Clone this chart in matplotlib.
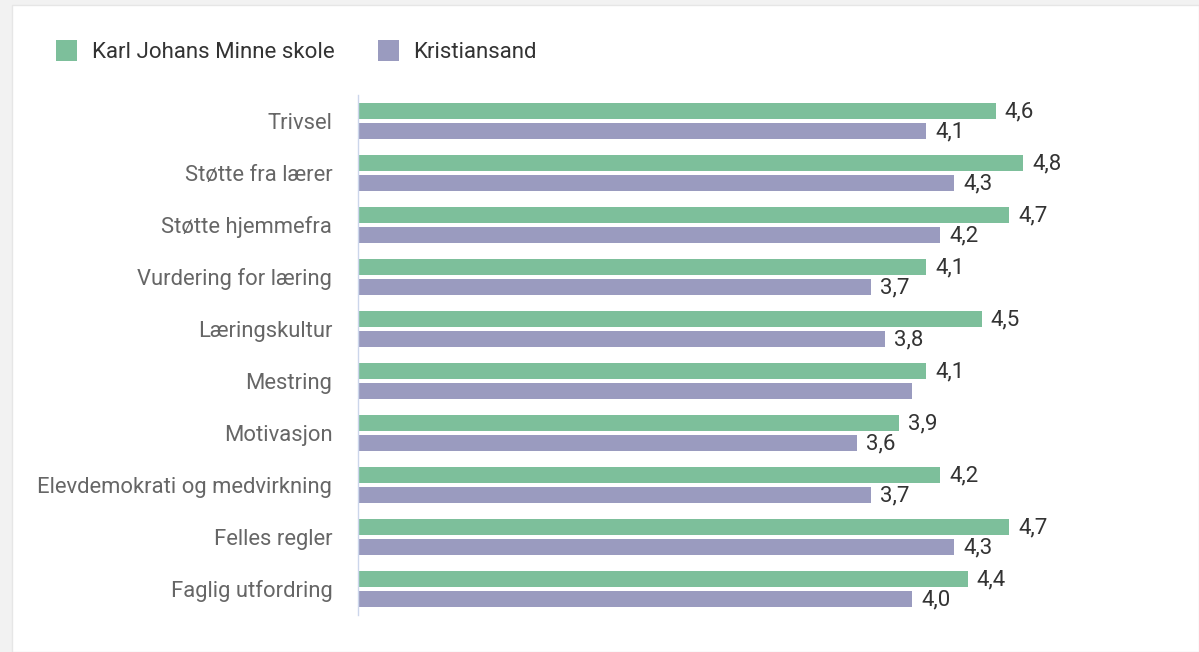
import matplotlib.pyplot as plt
from matplotlib.patches import Rectangle
import numpy as np

plt.rcParams['font.family'] = ['Roboto', 'DejaVu Sans']

categories = ["Trivsel", "Støtte fra lærer", "Støtte hjemmefra", "Vurdering for læring",
              "Læringskultur", "Mestring", "Motivasjon", "Elevdemokrati og medvirkning",
              "Felles regler", "Faglig utfordring"]
school = [4.6, 4.8, 4.7, 4.1, 4.5, 4.1, 3.9, 4.2, 4.7, 4.4]
kommune = [4.1, 4.3, 4.2, 3.7, 3.8, 4.0, 3.6, 3.7, 4.3, 4.0]
# labels shown in the original (Mestring/Kristiansand label is hidden there)
show_kommune_label = [True, True, True, True, True, False, True, True, True, True]
series_names = ["Karl Johans Minne skole", "Kristiansand"]

green = "#7dbf9b"
purple = "#9a9bbf"
fs = 16

W, H = 1199, 652
fig = plt.figure(figsize=(W / 100, H / 100), dpi=100)
fig.patch.set_facecolor("#f2f2f2")
fig.patches.append(Rectangle((12 / W, 0), 1 - 12 / W, 1 - 5 / H, transform=fig.transFigure,
                             facecolor="white", edgecolor="#e6e6e6", linewidth=1, zorder=-5))

ax = fig.add_axes([358 / W, 1 - 615 / H, 693 / W, 520 / H])
ax.set_facecolor("none")
ax.set_zorder(2)

y = np.arange(len(categories))
off = 0.19
h = 0.31
b1 = ax.barh(y - off, school, height=h, color=green, label=series_names[0])
b2 = ax.barh(y + off, kommune, height=h, color=purple, label=series_names[1])

for yi, v in zip(y, school):
    ax.annotate(f"{v:.1f}".replace(".", ","), (v, yi - off), xytext=(9, -1),
                textcoords="offset pixels", va="center", ha="left", fontsize=fs, color="#333333")
for yi, v, show in zip(y, kommune, show_kommune_label):
    if show:
        ax.annotate(f"{v:.1f}".replace(".", ","), (v, yi + off), xytext=(9, -1),
                    textcoords="offset pixels", va="center", ha="left", fontsize=fs, color="#333333")

ax.set_xlim(0, 5)
ax.set_ylim(len(categories) - 0.5, -0.5)
ax.set_yticks(y)
ax.set_yticklabels(categories, fontsize=15.8, color="#666666")
ax.tick_params(axis="y", length=0, pad=18.5)
ax.set_xticks([])
for s in ["top", "right", "bottom"]:
    ax.spines[s].set_visible(False)
ax.spines["left"].set_color("#ccd6eb")
ax.spines["left"].set_linewidth(1)

fig.legend(handles=[b1, b2], loc="upper left", bbox_to_anchor=(56 / W, 1 - 40 / H),
           ncol=2, frameon=False, fontsize=fs, handlelength=0.95, handleheight=1.05,
           handletextpad=0.65, columnspacing=1.95, borderpad=0, borderaxespad=0,
           labelcolor="#333333")

fig.savefig("out.png", dpi=100, facecolor=fig.get_facecolor())
